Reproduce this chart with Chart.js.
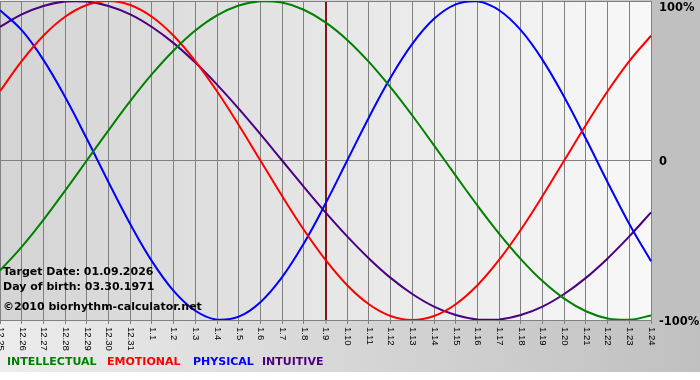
<!DOCTYPE html>
<html>
<head>
<meta charset="utf-8">
<script src="https://cdn.jsdelivr.net/npm/chart.js@4.4.1/dist/chart.umd.min.js"></script>
<style>
  html, body { margin: 0; padding: 0; background: #ffffff; }
  canvas { display: block; }
</style>
</head>
<body>
<canvas id="c" width="700" height="380"></canvas>
<script>
// ---- data (percent) ----
const days = ['12.25','12.26','12.27','12.28','12.29','12.30','12.31','1.1','1.2','1.3','1.4','1.5','1.6','1.7','1.8','1.9','1.10','1.11','1.12','1.13','1.14','1.15','1.16','1.17','1.18','1.19','1.20','1.21','1.22','1.23','1.24'];
const intellectual = [-69.0, -54.1, -37.2, -18.9, 0, 18.9, 37.2, 54.1, 69.0, 81.5, 91.0, 97.2, 99.9, 99.0, 94.5, 86.6, 75.6, 61.8, 45.8, 28.2, 9.5, -9.5, -28.2, -45.8, -61.8, -75.6, -86.6, -94.5, -99.0, -99.9, -97.2];
const emotional = [43.4, 62.3, 78.2, 90.1, 97.5, 100, 97.5, 90.1, 78.2, 62.3, 43.4, 22.3, 0, -22.3, -43.4, -62.3, -78.2, -90.1, -97.5, -100, -97.5, -90.1, -78.2, -62.3, -43.4, -22.3, 0, 22.3, 43.4, 62.3, 78.2];
const physical = [94.2, 81.7, 63.1, 39.8, 13.6, -13.6, -39.8, -63.1, -81.7, -94.2, -99.8, -97.9, -88.8, -73.1, -52.0, -27.0, 0, 27.0, 52.0, 73.1, 88.8, 97.9, 99.8, 94.2, 81.7, 63.1, 39.8, 13.6, -13.6, -39.8, -63.1];
const intuitive = [83.7, 91.6, 96.9, 99.7, 99.7, 96.9, 91.6, 83.7, 73.6, 61.4, 47.6, 32.5, 16.5, 0, -16.5, -32.5, -47.6, -61.4, -73.6, -83.7, -91.6, -96.9, -99.7, -99.7, -96.9, -91.6, -83.7, -73.6, -61.4, -47.6, -32.5];
const yTicks = [100, 0, -100];
const yTickLabels = ['100%', '0', '-100%'];
const targetDay = '1.9';
const infoLines = ['Target Date: 01.09.2026', 'Day of birth: 03.30.1971'];
const copyright = '\u00A92010 biorhythm-calculator.net';
const seriesNames = ['INTELLECTUAL', 'EMOTIONAL', 'PHYSICAL', 'INTUITIVE'];
const seriesColors = ['#008000', '#ff0000', '#0000ff', '#4b0082'];

const targetIndex = days.indexOf(targetDay);

const bgPlugin = {
  id: 'bg',
  beforeDraw(chart) {
    const ctx = chart.ctx, a = chart.chartArea;
    ctx.save();
    let g = ctx.createLinearGradient(0, 0, 700, 0);
    g.addColorStop(0, '#ececec');
    g.addColorStop(1, '#c0c0c0');
    ctx.fillStyle = g;
    ctx.fillRect(0, 0, 700, 380);
    ctx.fillStyle = '#c0c0c0';
    ctx.fillRect(a.right, 0, 700 - a.right, a.bottom);
    ctx.fillStyle = '#ffffff';
    ctx.fillRect(0, 372, 700, 8);
    g = ctx.createLinearGradient(a.left, 0, a.right, 0);
    g.addColorStop(0, '#d4d4d4');
    g.addColorStop(0.5, '#e6e6e6');
    g.addColorStop(1, '#f8f8f8');
    ctx.fillStyle = g;
    ctx.fillRect(a.left, a.top, a.right - a.left, a.bottom - a.top);
    ctx.restore();
  },
  afterDraw(chart) {
    const ctx = chart.ctx, a = chart.chartArea;
    const xs = chart.scales.x, ys = chart.scales.y;
    ctx.save();
    // x labels rotated clockwise
    ctx.fillStyle = '#000000';
    ctx.font = "9.5px 'Liberation Sans', Arial, sans-serif";
    ctx.textAlign = 'left';
    ctx.textBaseline = 'middle';
    days.forEach((d, i) => {
      const x = xs.getPixelForValue(i);
      ctx.save();
      ctx.translate(x + 0.5, a.bottom + 7);
      ctx.rotate(Math.PI / 2);
      ctx.fillText(d, 0, 0);
      ctx.restore();
    });
    // y labels
    ctx.font = "bold 11.5px 'DejaVu Sans', Verdana, sans-serif";
    ctx.textBaseline = 'middle';
    yTicks.forEach((v, i) => {
      const y = Math.max(ys.getPixelForValue(v) + 2, 8);
      ctx.fillText(yTickLabels[i], a.right + 8, y);
    });
    // info text
    ctx.font = "bold 11px 'DejaVu Sans', Verdana, sans-serif";
    ctx.fillText(infoLines[0], 3, 272);
    ctx.fillText(infoLines[1], 3, 287);
    ctx.fillText(copyright, 3, 307);
    // legend
    const lx = [7, 107, 193, 262];
    seriesNames.forEach((n, i) => {
      ctx.fillStyle = seriesColors[i];
      ctx.fillText(n, lx[i], 362);
    });
    ctx.restore();
  }
};

const mk = (label, data, color) => ({
  label, data, borderColor: color, backgroundColor: color,
  borderWidth: 2, pointRadius: 0, tension: 0.4, fill: false
});

new Chart(document.getElementById('c'), {
  type: 'line',
  data: {
    labels: days,
    datasets: [
      mk(seriesNames[0], intellectual, seriesColors[0]),
      mk(seriesNames[1], emotional, seriesColors[1]),
      mk(seriesNames[2], physical, seriesColors[2]),
      mk(seriesNames[3], intuitive, seriesColors[3])
    ]
  },
  options: {
    responsive: false,
    animation: false,
    devicePixelRatio: 1,
    layout: { padding: { top: 1, left: 0, right: 0, bottom: 0 } },
    plugins: { legend: { display: false }, tooltip: { enabled: false } },
    scales: {
      x: {
        type: 'category',
        offset: false,
        ticks: { display: false },
        grid: {
          color: (c) => c.index === targetIndex ? '#801818' : '#808080',
          lineWidth: (c) => c.index === targetIndex ? 2 : 1,
          tickColor: '#808080',
          tickWidth: 1,
          tickLength: 4,
          drawTicks: true
        },
        border: { color: '#808080' },
        afterFit: (s) => { s.height = 60; }
      },
      y: {
        position: 'right',
        min: -100, max: 100,
        ticks: { display: false, stepSize: 100 },
        grid: { color: '#808080', drawTicks: false },
        border: { color: '#808080' },
        afterFit: (s) => { s.width = 49; }
      }
    }
  },
  plugins: [bgPlugin]
});
</script>
</body>
</html>
